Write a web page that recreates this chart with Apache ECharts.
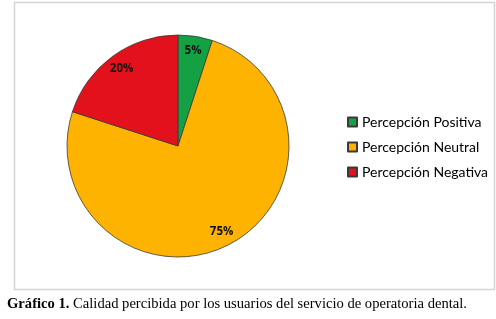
<!DOCTYPE html>
<html><head><meta charset="utf-8">
<script src="https://cdn.jsdelivr.net/npm/echarts@6/dist/echarts.min.js"></script>
<style>html,body{margin:0;padding:0;background:#fff}#c{width:496px;height:319px}</style>
</head><body><div id="c"></div>
<script>
var categories = ["Percepción Positiva", "Percepción Neutral", "Percepción Negativa"];
var values = [5, 75, 20];
var colors = ["#14a144", "#fdb300", "#e2111b"];
var captionBold = "Gráfico 1.";
var captionText = " Calidad percibida por los usuarios del servicio de operatoria dental.";

var chart = echarts.init(document.getElementById('c'), null, {renderer: 'canvas'});
var pieData = categories.map(function (n, i) {
  return {name: n, value: values[i], itemStyle: {color: colors[i]}};
});
chart.setOption({
  animation: false,
  backgroundColor: '#fff',
  graphic: [
    {type: 'rect', shape: {x: 14.5, y: 2.5, width: 480, height: 287}, style: {fill: 'none', stroke: '#d4d4d4', lineWidth: 1.5}, z: -1},
    {type: 'text', left: 7, top: 297, style: {
      text: '{b|' + captionBold + '}{n|' + captionText + '}',
      rich: {
        b: {fontFamily: 'Liberation Serif', fontWeight: 'bold', fontSize: 14.6, fill: '#000'},
        n: {fontFamily: 'Liberation Serif', fontSize: 14.6, fill: '#000'}
      }
    }}
  ],
  legend: {
    orient: 'vertical', left: 347, top: 114, padding: 0,
    icon: 'rect', itemWidth: 9, itemHeight: 9, itemGap: 9,
    textStyle: {fontFamily: 'Lato', fontSize: 14, color: '#000', lineHeight: 16},
    data: categories
  },
  series: [
    {
      type: 'pie', center: [178, 146], radius: [0, 111],
      startAngle: 90, clockwise: true,
      label: {show: false}, labelLine: {show: false},
      itemStyle: {borderColor: '#3a3a3a', borderWidth: 0.8},
      emphasis: {disabled: true},
      data: pieData
    },
    {
      type: 'pie', center: [178, 146], radius: [75, 111],
      startAngle: 90, clockwise: true, silent: true,
      legendHoverLink: false,
      itemStyle: {color: 'rgba(0,0,0,0)', borderWidth: 0},
      label: {show: true, position: 'inside', formatter: '{c}%', fontFamily: 'Open Sans', fontWeight: 'bold', fontSize: 11.5, color: '#111'},
      labelLine: {show: false},
      emphasis: {disabled: true},
      data: values.map(function (v, i) { return {name: categories[i] + ' ', value: v}; })
    }
  ]
});
</script></body></html>
